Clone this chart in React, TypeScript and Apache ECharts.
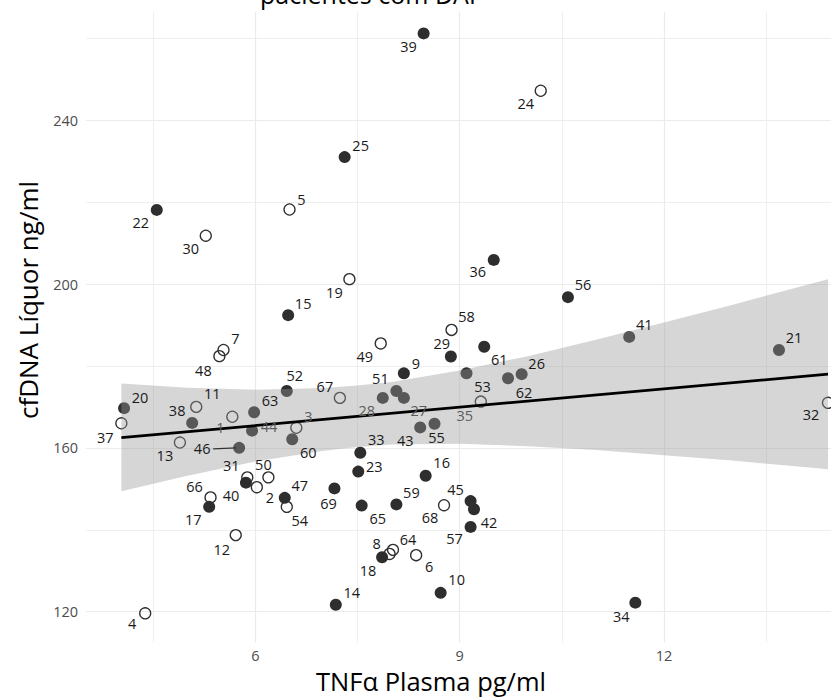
import { useEffect, useRef } from "react";
import * as echarts from "echarts";

// ---- data ----
const FILLED_IDS = [9, 10, 14, 15, 16, 17, 18, 20, 21, 22, 23, 25, 26, 27, 28, 29, 33, 34, 36, 38, 39, 40, 41, 42, 43, 44, 45, 46, 47, 51, 52, 53, 55, 56, 57, 59, 60, 61, 62, 63, 65, 69];
const FILLED_X = [8.18, 8.72, 7.18, 6.48, 8.5, 5.32, 7.86, 4.07, 13.69, 4.55, 7.51, 7.31, 9.91, 8.18, 7.87, 8.87, 7.54, 11.58, 9.5, 5.07, 8.47, 5.86, 11.49, 9.21, 8.42, 5.95, 9.16, 5.76, 6.43, 8.07, 6.46, 9.1, 8.63, 10.59, 9.16, 8.07, 6.54, 9.36, 9.71, 5.98, 7.56, 7.16];
const FILLED_Y = [178.2, 124.6, 121.7, 192.4, 153.2, 145.6, 133.3, 169.7, 183.9, 218.1, 154.2, 231.0, 178.0, 172.2, 172.2, 182.3, 158.8, 122.2, 205.9, 166.1, 261.2, 151.5, 187.1, 145.0, 165.0, 164.2, 147.0, 160.0, 147.8, 173.9, 173.9, 178.2, 165.9, 196.8, 140.7, 146.2, 162.1, 184.7, 177.0, 168.7, 145.9, 150.1];

const OPEN_IDS = [1, 2, 3, 4, 5, 6, 7, 8, 11, 12, 13, 19, 24, 30, 31, 32, 35, 37, 48, 49, 50, 54, 58, 64, 66, 67, 68];
const OPEN_X = [5.66, 6.02, 6.6, 4.38, 6.5, 8.36, 5.53, 7.97, 5.13, 5.71, 4.89, 7.38, 10.19, 5.27, 5.88, 14.41, 9.31, 4.03, 5.47, 7.84, 6.19, 6.46, 8.88, 8.02, 5.34, 7.24, 8.77];
const OPEN_Y = [167.6, 150.4, 164.9, 119.6, 218.2, 133.8, 183.9, 134.1, 170.0, 138.7, 161.3, 201.2, 247.2, 211.8, 152.8, 171.0, 171.3, 166.0, 182.4, 185.5, 152.8, 145.6, 188.8, 135.1, 147.9, 172.2, 146.0];

// fitted line and its confidence band
const FIT_X = [4.03, 14.41];
const FIT_Y = [162.5, 178.0];
const BAND_X = [4.03, 5, 6, 7, 7.5, 8, 9, 10, 11, 12, 13, 14.41];
const BAND_HIGH = [175.7, 174.7, 174.2, 174.6, 175.2, 176.1, 178.9, 182.4, 186.4, 190.6, 194.9, 201.2];
const BAND_LOW = [149.4, 153.2, 156.7, 159.3, 160.2, 160.8, 161.0, 160.4, 159.5, 158.2, 156.9, 154.8];

const X_TICKS = [6, 9, 12];
const X_MINOR = [4.5, 7.5, 10.5, 13.5];
const Y_TICKS = [120, 160, 200, 240];
const Y_MINOR = [140, 180, 220, 260];
const X_RANGE = [3.512, 14.933];
const Y_RANGE = [112.5, 266.5];

const TITLE = "pacientes com DAP";
const X_TITLE = "TNFα Plasma pg/ml";
const Y_TITLE = "cfDNA Líquor ng/ml";

// ---- layout / style (label placement as repelled in the picture) ----
const LABEL_OFFSETS: Record<number, [number, number]> = {
  1: [-12, 11], 2: [13, 10], 3: [12, -11], 4: [-13, 10], 5: [12, -10], 6: [13, 11], 7: [12, -11], 8: [-13, -10],
  9: [12, -10], 10: [16, -13], 11: [16, -13], 12: [-14, 14], 13: [-15, 13], 14: [16, -12], 15: [15, -12], 16: [16, -13],
  17: [-16, 13], 18: [-14, 13], 19: [-15, 13], 20: [16, -11], 21: [15, -12], 22: [-16, 13], 23: [16, -5], 24: [-15, 13],
  25: [16, -12], 26: [15, -11], 27: [15, 13], 28: [-16, 13], 29: [-9, -13], 30: [-15, 13], 31: [-16, -12], 32: [-17, 12],
  33: [16, -13], 34: [-14, 14], 35: [-16, 14], 36: [-16, 12], 37: [-16, 14], 38: [-15, -12], 39: [-15, 13], 40: [-15, 13],
  41: [15, -12], 42: [15, 13], 43: [-15, 13], 44: [17, -4], 45: [-15, -12], 46: [-37, 1], 47: [15, -12], 48: [-16, 14],
  49: [-16, 13], 50: [-5, -13], 51: [-16, -12], 52: [8, -15], 53: [16, 13], 54: [13, 14], 55: [2, 14], 56: [15, -13],
  57: [-16, 12], 58: [15, -13], 59: [15, -12], 60: [16, 13], 61: [15, 13], 62: [16, 14], 63: [16, -12], 64: [15, -10],
  65: [16, 13], 66: [-16, -11], 67: [-15, -11], 68: [-14, 12], 69: [-6, 15],
};
const FADED_LABELS = [1, 3, 27, 28, 35, 44];
const SEGMENT_ID = 46;

const FONT = '"Open Sans", sans-serif';

export default function App() {
  const ref = useRef<HTMLDivElement>(null);

  useEffect(() => {
    if (!ref.current) return;
    const chart = echarts.init(ref.current, undefined, { renderer: "svg" });

    const allPoints = [
      ...FILLED_IDS.map((id, i) => ({ id, x: FILLED_X[i], y: FILLED_Y[i] })),
      ...OPEN_IDS.map((id, i) => ({ id, x: OPEN_X[i], y: OPEN_Y[i] })),
    ];
    const segIdx = FILLED_IDS.indexOf(SEGMENT_ID);

    const axisCommon = {
      type: "value" as const,
      axisLine: { show: false },
    };

    chart.setOption({
      animation: false,
      backgroundColor: "#ffffff",
      grid: {
        left: 86.1,
        top: 11.7,
        width: 777.5,
        height: 630.7,
        containLabel: false,
        outerBoundsMode: "none",
      },
      xAxis: [
        {
          ...axisCommon,
          min: X_RANGE[0],
          max: X_RANGE[1],
          position: "bottom",
          axisTick: { show: false, customValues: X_TICKS },
          axisLabel: { customValues: X_TICKS, color: "#4d4d4d", fontSize: 14.5, lineHeight: 15, fontFamily: FONT, margin: 6 },
          splitLine: { show: true, lineStyle: { color: "#ebebeb", width: 1.2 } },
        },
        {
          ...axisCommon,
          min: X_RANGE[0],
          max: X_RANGE[1],
          position: "top",
          axisTick: { show: false, customValues: X_MINOR },
          axisLabel: { show: false, customValues: X_MINOR },
          splitLine: { show: true, lineStyle: { color: "#ebebeb", width: 0.8 } },
        },
      ],
      yAxis: [
        {
          ...axisCommon,
          min: Y_RANGE[0],
          max: Y_RANGE[1],
          position: "left",
          axisTick: { show: false, customValues: Y_TICKS },
          axisLabel: { customValues: Y_TICKS, color: "#4d4d4d", fontSize: 14.5, fontFamily: FONT, margin: 8 },
          splitLine: { show: true, lineStyle: { color: "#ebebeb", width: 1.2 } },
        },
        {
          ...axisCommon,
          min: Y_RANGE[0],
          max: Y_RANGE[1],
          position: "right",
          axisTick: { show: false, customValues: Y_MINOR },
          axisLabel: { show: false, customValues: Y_MINOR },
          splitLine: { show: true, lineStyle: { color: "#ebebeb", width: 0.8 } },
        },
      ],
      graphic: [
        {
          type: "text",
          x: 372,
          y: -6,
          style: { text: TITLE, font: `25px ${FONT}`, fill: "#000", align: "center", verticalAlign: "middle" },
        },
        {
          type: "text",
          x: 431,
          y: 681,
          style: { text: X_TITLE, font: `25.5px ${FONT}`, lineHeight: 26, fill: "#000", align: "center", verticalAlign: "middle" },
        },
        {
          type: "text",
          x: 28,
          y: 300,
          rotation: Math.PI / 2,
          style: { text: Y_TITLE, font: `26px ${FONT}`, fill: "#000", align: "center", verticalAlign: "middle" },
        },
      ],
      series: [
        {
          type: "scatter",
          name: "filled",
          z: 2,
          silent: true,
          symbol: "circle",
          symbolSize: 12,
          itemStyle: { color: "#2e2e2e", opacity: 1 },
          data: FILLED_IDS.map((id, i) => ({ name: String(id), value: [FILLED_X[i], FILLED_Y[i]] })),
        },
        {
          type: "scatter",
          name: "open",
          z: 2,
          silent: true,
          symbol: "circle",
          symbolSize: 11,
          itemStyle: { color: "rgba(255,255,255,0)", borderColor: "#2e2e2e", borderWidth: 1.3, opacity: 1 },
          data: OPEN_IDS.map((id, i) => ({ name: String(id), value: [OPEN_X[i], OPEN_Y[i]] })),
        },
        {
          type: "custom",
          name: "band",
          z: 3,
          silent: true,
          data: [[BAND_X[0], BAND_LOW[0]]],
          encode: { x: 0, y: 1 },
          renderItem: (_params: any, api: any) => {
            const up = BAND_X.map((x, i) => api.coord([x, BAND_HIGH[i]]));
            const lo = BAND_X.map((x, i) => api.coord([x, BAND_LOW[i]])).reverse();
            return {
              type: "polygon",
              shape: { points: up.concat(lo) },
              style: { fill: "rgba(153,153,153,0.4)" },
            };
          },
        },
        {
          type: "line",
          name: "fit",
          z: 4,
          silent: true,
          symbol: "none",
          lineStyle: { color: "#000000", width: 2.8 },
          data: FIT_X.map((x, i) => [x, FIT_Y[i]]),
        },
        {
          type: "scatter",
          name: "labels",
          z: 5,
          silent: true,
          symbol: "circle",
          symbolSize: 1,
          itemStyle: { color: "rgba(0,0,0,0)", opacity: 1 },
          label: {
            show: true,
            position: "inside",
            formatter: "{b}",
            fontSize: 14.5,
            fontFamily: FONT,
            color: "#1a1a1a",
            align: "center",
            verticalAlign: "middle",
          },
          data: allPoints.map((p) => ({
            name: String(p.id),
            value: [p.x, p.y],
            label: {
              offset: LABEL_OFFSETS[p.id] || [12, -10],
              color: FADED_LABELS.includes(p.id) ? "#5c5c5c" : "#1a1a1a",
            },
          })),
        },
        {
          type: "custom",
          name: "segment",
          z: 5,
          silent: true,
          data: [[FILLED_X[segIdx], FILLED_Y[segIdx]]],
          encode: { x: 0, y: 1 },
          renderItem: (_params: any, api: any) => {
            const c = api.coord([api.value(0), api.value(1)]);
            return {
              type: "line",
              shape: { x1: c[0] - 26, y1: c[1] + 1, x2: c[0] - 3, y2: c[1] },
              style: { stroke: "#333333", lineWidth: 1.2 },
            };
          },
        },
      ],
    });

    return () => chart.dispose();
  }, []);

  return (
    <div
      ref={ref}
      style={{ position: "fixed", left: 0, top: 0, width: 831, height: 698, background: "#fff" }}
    />
  );
}
